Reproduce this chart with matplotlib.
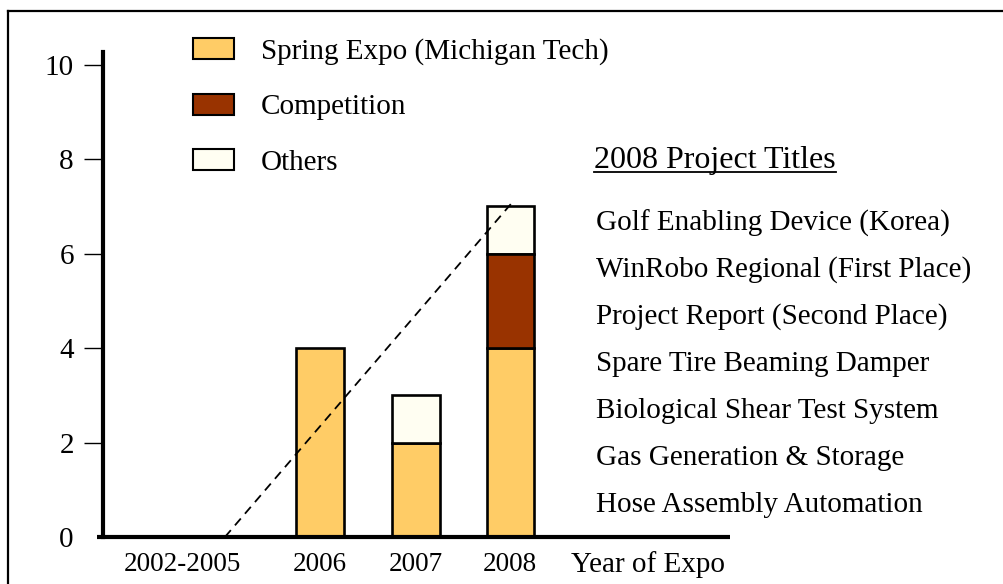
import matplotlib
matplotlib.use("Agg")
import matplotlib.pyplot as plt
from matplotlib.lines import Line2D
from matplotlib.patches import Patch
import numpy as np

# data
years = ["2002-2005", "2006", "2007", "2008"]
spring = [0, 4, 2, 4]
competition = [0, 0, 0, 2]
others = [0, 0, 1, 1]
titles = [
    "Golf Enabling Device (Korea)",
    "WinRobo Regional (First Place)",
    "Project Report (Second Place)",
    "Spare Tire Beaming Damper",
    "Biological Shear Test System",
    "Gas Generation & Storage",
    "Hose Assembly Automation",
]
yticks = [0, 2, 4, 6, 8, 10]

c_spring = "#FFCC66"
c_comp = "#993300"
c_other = "#FFFEF2"

plt.rcParams["font.family"] = ["Liberation Serif", "DejaVu Serif"]
FS = 21

W, H = 1004, 584
fig = plt.figure(figsize=(W / 100, H / 100), dpi=100)
# axes placed in pixel terms: x from 103 to 730, y from 537 (zero) to 52
ax = fig.add_axes([103 / W, (H - 537) / H, (730 - 103) / W, (537 - 52) / H])

xpos = np.array([0.0, 1.43, 2.43, 3.41])
bw = 0.49
spring = np.array(spring)
competition = np.array(competition)
others = np.array(others)
totals = spring + competition + others

kw = dict(width=bw, edgecolor="black", linewidth=1.9, zorder=3)
show = totals > 0
ax.bar(xpos[show], spring[show], color=c_spring, **kw)
m = others > 0
ax.bar(xpos[m], others[m], bottom=(spring + competition)[m], color=c_other, **kw)
m = competition > 0
ax.bar(xpos[m], competition[m], bottom=spring[m], color=c_comp, **kw)

# dashed trend line from the baseline up to the 2008 total
ax.plot([xpos[0] + 0.44, xpos[-1] + 0.02], [totals[0], totals[-1] + 0.08],
        ls=(0, (5, 3.5)), color="black", lw=1.3, zorder=4)

ax.set_xlim(-0.83, 5.70)
ax.set_ylim(0, 10.27)

for s in ["top", "right", "bottom"]:
    ax.spines[s].set_visible(False)
ax.spines["left"].set_linewidth(3.0)
ax.spines["left"].set_bounds(0, 10.27)

# x axis line, slightly extending left of the y axis
ax.plot([-0.01, 1.0], [0, 0], transform=ax.get_yaxis_transform(),
        color="black", lw=3.0, clip_on=False, zorder=5, solid_capstyle="butt")

ax.set_yticks(yticks)
ax.set_yticklabels([str(v) for v in yticks], fontsize=FS)
ax.tick_params(axis="y", length=14, width=1.0, pad=7, direction="out")
ax.yaxis.get_major_ticks()[0].tick1line.set_visible(False)

ax.set_xticks(xpos)
ax.set_xticklabels(years, fontsize=19.5)
ax.tick_params(axis="x", length=0, pad=11)
ax.text(4.85, -0.58, "Year of Expo", fontsize=FS, ha="center", va="center",
        transform=ax.transData)

# legend
handles = [Patch(facecolor=c, edgecolor="black", linewidth=1.5)
           for c in (c_spring, c_comp, c_other)]
fig.legend(handles, ["Spring Expo (Michigan Tech)", "Competition", "Others"],
           loc="upper left", bbox_to_anchor=(170 / W, 1 - 15 / H),
           frameon=False, fontsize=FS, handlelength=1.38, handleheight=0.72,
           handletextpad=0.93, labelspacing=0.98, borderpad=0.3)

# project titles on the right
title = fig.text(594 / W, 1 - 168 / H, "2008 Project Titles", fontsize=23,
                 ha="left", va="baseline")
for i, t in enumerate(titles):
    fig.text(596 / W, 1 - (223 + 47.0 * i) / H, t, fontsize=FS,
             ha="left", va="center")

fig.canvas.draw()
bb = title.get_window_extent()
fig.add_artist(Line2D([bb.x0 / W, bb.x1 / W], [1 - 172 / H] * 2,
                      transform=fig.transFigure, color="black", lw=1.3))

# outer frame (top and left edges visible)
fig.add_artist(Line2D([8 / W, 1.0], [1 - 11 / H] * 2, transform=fig.transFigure,
                      color="black", lw=1.6))
fig.add_artist(Line2D([8 / W] * 2, [0, 1 - 11 / H], transform=fig.transFigure,
                      color="black", lw=1.6))

fig.savefig("out.png", dpi=100)
